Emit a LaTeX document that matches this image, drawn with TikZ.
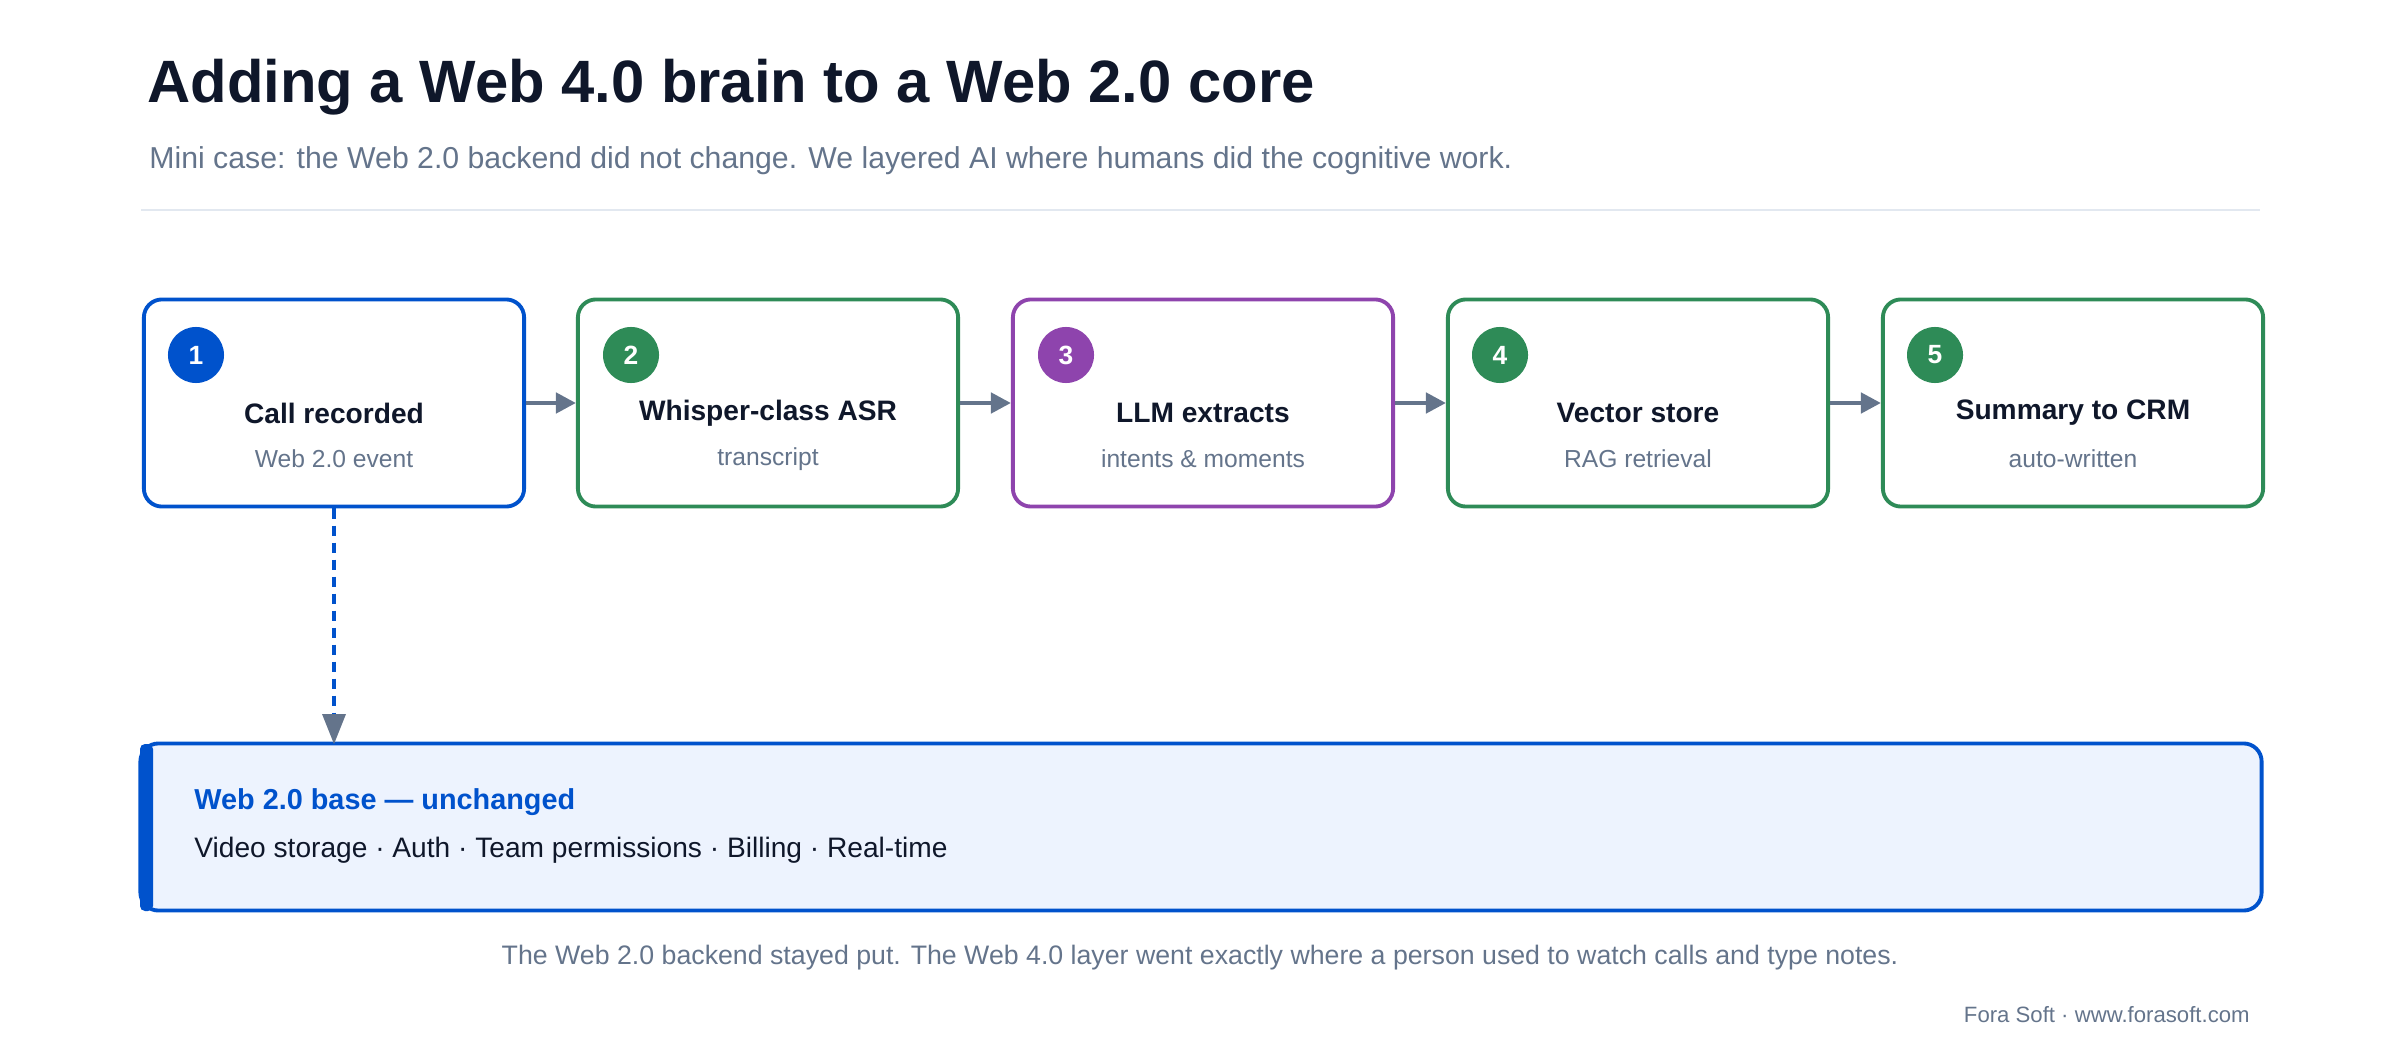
\documentclass[tikz,border=0pt]{standalone}
\usepackage{fontspec}
\setmainfont{Liberation Sans}
\usetikzlibrary{arrows.meta,positioning}
\definecolor{inkdark}{HTML}{0F172A}
\definecolor{inkgray}{HTML}{64748B}
\definecolor{stepblue}{HTML}{0052CC}
\definecolor{stepgreen}{HTML}{2E8B57}
\definecolor{steppurple}{HTML}{8E44AD}
\definecolor{basefill}{HTML}{EDF3FE}
\definecolor{rulegray}{HTML}{E2E8F0}
\begin{document}
\begin{tikzpicture}[x=0.01cm,y=-0.01cm]
     \tikzstyle{step_style} = [draw,line width=1.1pt,rounded corners=0.18cm,fill=white,minimum width=3.8cm,minimum height=2.07cm]
     \tikzstyle{num_style} = [circle,inner sep=0pt,minimum size=0.56cm,text=white,font=\fontsize{7.5}{9}\selectfont\bfseries]
     \tikzstyle{head_style} = [text=inkdark,font=\fontsize{8}{10}\selectfont\bfseries]
     \tikzstyle{sub_style} = [text=inkgray,font=\fontsize{7}{9}\selectfont]
     \tikzstyle{edge_style} = [draw=inkgray,line width=1.3pt,-{Triangle[length=0.2cm,width=0.2cm]}]
     \useasboundingbox (0,0) rectangle (2400,1064);
     \node[anchor=west,text=inkdark,font=\fontsize{17}{20}\selectfont\bfseries] (title) at (135,87) {Adding a Web 4.0 brain to a Web 2.0 core};
     \node[anchor=west,text=inkgray,font=\fontsize{8.6}{10}\selectfont] (subtitle) at (137,161) {Mini case: the Web 2.0 backend did not change. We layered AI where humans did the cognitive work.};
     \draw[rulegray,line width=0.6pt] (141,210) -- (2260,210);
     % steps
     \node[step_style,draw=stepblue] (s1) at (334,403) {};
     \node[step_style,draw=stepgreen] (s2) at (768,403) {};
     \node[step_style,draw=steppurple] (s3) at (1203,403) {};
     \node[step_style,draw=stepgreen] (s4) at (1638,403) {};
     \node[step_style,draw=stepgreen] (s5) at (2073,403) {};
     \node[num_style,fill=stepblue] (n1) at (196,355) {1};
     \node[num_style,fill=stepgreen] (n2) at (631,355) {2};
     \node[num_style,fill=steppurple] (n3) at (1066,355) {3};
     \node[num_style,fill=stepgreen] (n4) at (1500,355) {4};
     \node[num_style,fill=stepgreen] (n5) at (1935,355) {5};
     \node[head_style] (h1) at (334,413) {Call recorded};
     \node[head_style] (h2) at (768,413) {Whisper-class ASR};
     \node[head_style] (h3) at (1203,413) {LLM extracts};
     \node[head_style] (h4) at (1638,413) {Vector store};
     \node[head_style] (h5) at (2073,413) {Summary to CRM};
     \node[sub_style] (t1) at (334,459) {Web 2.0 event};
     \node[sub_style] (t2) at (768,459) {transcript};
     \node[sub_style] (t3) at (1203,459) {intents \& moments};
     \node[sub_style] (t4) at (1638,459) {RAG retrieval};
     \node[sub_style] (t5) at (2073,459) {auto-written};
     \draw[edge_style] (s1) -- (s2);
     \draw[edge_style] (s2) -- (s3);
     \draw[edge_style] (s3) -- (s4);
     \draw[edge_style] (s4) -- (s5);
     % base layer
     \node[draw=stepblue,fill=basefill,line width=1.1pt,rounded corners=0.18cm,minimum width=21.2cm,minimum height=1.67cm] (base) at (1201,827) {};
     \fill[stepblue,rounded corners=0.05cm] (140,744) rectangle (153,911);
     \node[anchor=west,text=stepblue,font=\fontsize{8.2}{10}\selectfont\bfseries] (bt) at (182,802) {Web 2.0 base — unchanged};
     \node[anchor=west,text=inkdark,font=\fontsize{8}{10}\selectfont] (bl) at (182,850) {Video storage · Auth · Team permissions · Billing · Real-time};
     \coordinate (drop) at (334,744);
     \draw[stepblue,line width=1.1pt,dash pattern=on 0.1cm off 0.07cm] (s1.south) -- (334,715);
     \draw[draw=none,fill=inkgray] (334,744) -- (322,714) -- (346,714) -- cycle;
     % footer
     \node[text=inkgray,font=\fontsize{7.6}{9}\selectfont] (note) at (1200,958) {The Web 2.0 backend stayed put. The Web 4.0 layer went exactly where a person used to watch calls and type notes.};
     \node[anchor=east,text=inkgray,font=\fontsize{6.3}{8}\selectfont] (credit) at (2262,1015) {Fora Soft · www.forasoft.com};
\end{tikzpicture}
\end{document}
